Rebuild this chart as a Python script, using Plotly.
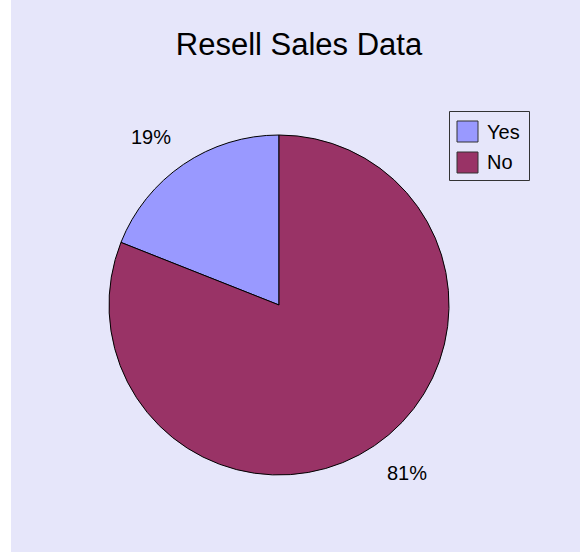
import math
import plotly.graph_objects as go

# Chart data
categories = ["Yes", "No"]
values = [19, 81]
colors = ["#9999FF", "#993366"]
title_text = "Resell Sales Data"

W, H = 580, 552
BG = "#E6E6FA"
FONT = "Arial, Liberation Sans, sans-serif"

# Pie placement in pixels (square domain -> radius = half width)
cx, cy, r = 279, 305, 170


def px_x(x):
    return x / W


def px_y(y):
    return 1 - y / H


total = sum(values)

# First slice ends at 12 o'clock, slices run counterclockwise from there
fig = go.Figure(
    go.Pie(
        labels=categories,
        values=values,
        marker=dict(colors=colors, line=dict(color="#000000", width=1)),
        sort=False,
        direction="clockwise",
        rotation=-360 * values[0] / total,
        textinfo="none",
        hoverinfo="label+percent",
        showlegend=False,
        domain=dict(x=[px_x(cx - r), px_x(cx + r)], y=[px_y(cy + r), px_y(cy - r)]),
    )
)

shapes = [
    # chart area (white strip left of it)
    dict(type="rect", xref="paper", yref="paper", x0=px_x(11), x1=1, y0=0, y1=1,
         fillcolor=BG, line=dict(width=0), layer="below"),
]
annotations = []

# Percentage labels placed outside each slice, nearest corner along the mid-angle
start = 0.0
lw, lh = 40, 16
for v in values:
    frac = v / total
    mid = (start + frac / 2) * 2 * math.pi  # counterclockwise from 12 o'clock
    start += frac
    dx, dy = -math.sin(mid), -math.cos(mid)  # screen coords (y down)
    d = r + 23
    px = cx + dx * d + (lw / 2 if dx > 0 else -lw / 2)
    py = cy + dy * d + (lh / 2 if dy > 0 else -lh / 2)
    annotations.append(dict(
        text=f"{round(frac * 100)}%", x=px_x(px), y=px_y(py), xref="paper", yref="paper",
        xanchor="center", yanchor="middle", showarrow=False,
        font=dict(family=FONT, size=20, color="#000000"),
    ))

# Legend box
shapes.append(dict(type="rect", xref="paper", yref="paper",
                   x0=px_x(449.5), x1=px_x(529.5), y0=px_y(180.5), y1=px_y(111.5),
                   fillcolor=BG, line=dict(color="#333333", width=1)))
for i, (name, col) in enumerate(zip(categories, colors)):
    top = 121 + i * 31
    shapes.append(dict(type="rect", xref="paper", yref="paper",
                       x0=px_x(457), x1=px_x(478), y0=px_y(top + 21), y1=px_y(top),
                       fillcolor=col, line=dict(color="#333333", width=1)))
    annotations.append(dict(
        text=name, x=px_x(485), y=px_y(top + 10.5), xref="paper", yref="paper",
        xanchor="left", yanchor="middle", showarrow=False,
        font=dict(family=FONT, size=20, color="#000000"),
    ))

fig.update_layout(
    width=W, height=H,
    margin=dict(l=0, r=0, t=0, b=0),
    paper_bgcolor="#FFFFFF",
    title=dict(text=title_text, x=px_x(299), xanchor="center", y=px_y(44), yanchor="middle",
               xref="paper", yref="paper",
               font=dict(family=FONT, size=31, color="#000000")),
    shapes=shapes,
    annotations=annotations,
)

fig.write_html("out.html")
